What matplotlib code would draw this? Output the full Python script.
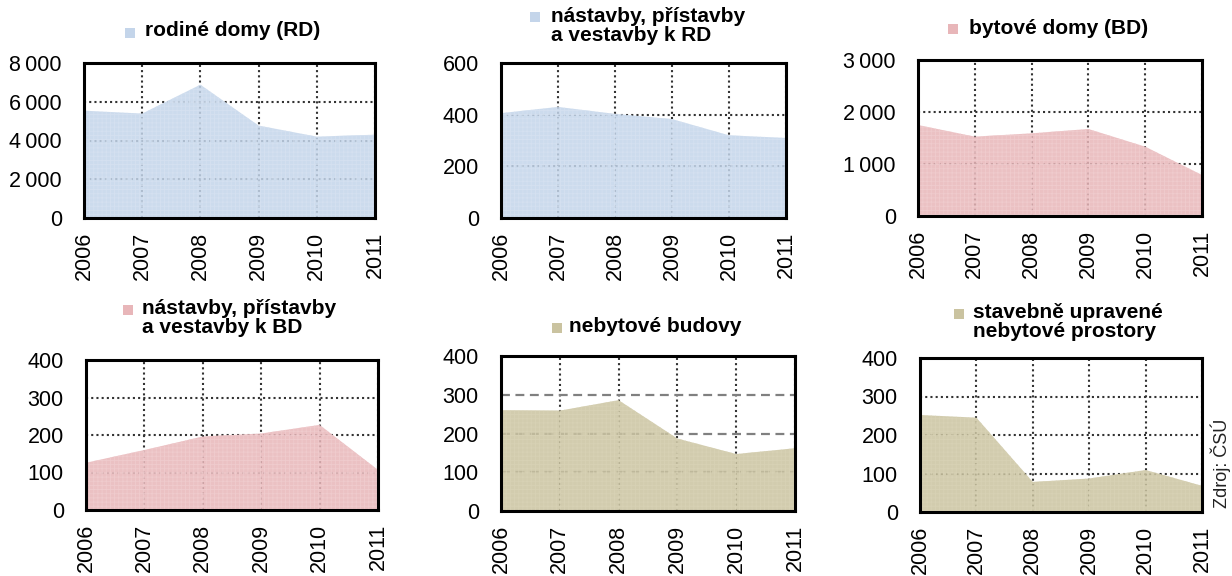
import matplotlib.pyplot as plt
from matplotlib.patches import Rectangle
from matplotlib.ticker import FuncFormatter

plt.rcParams['font.family'] = ['Liberation Sans', 'DejaVu Sans']
plt.rcParams['hatch.linewidth'] = 0.6

years = [2006, 2007, 2008, 2009, 2010, 2011]

rd = [5540, 5390, 6880, 4770, 4200, 4300]
rd_ext = [406, 430, 403, 383, 320, 310]
bd = [1750, 1526, 1590, 1673, 1333, 788]
bd_ext = [126, 160, 196, 204, 227, 107]
nonres = [260, 259, 286, 187, 147, 162]
nonres_adj = [252, 245, 78, 87, 109, 68]

titles = [
    "rodiné domy (RD)",
    "nástavby, přístavby\na vestavby k RD",
    "bytové domy (BD)",
    "nástavby, přístavby\na vestavby k BD",
    "nebytové budovy",
    "stavebně upravené\nnebytové prostory",
]
series = [rd, rd_ext, bd, bd_ext, nonres, nonres_adj]
ymax = [8000, 600, 3000, 400, 400, 400]
ystep = [2000, 200, 1000, 100, 100, 100]

blue = '#c4d5ea'
red = '#e8b6b9'
olive = '#cac3a0'
fills = [blue, blue, red, red, olive, olive]
hatches = ['#d6e2f1', '#d6e2f1', '#f0cdcf', '#f0cdcf', '#d9d3b6', '#d9d3b6']

W, H = 1232, 576
# axes boxes in pixels: left, top, right, bottom
boxes = [
    (84, 63, 375, 218),
    (501, 63, 786, 218),
    (918, 60, 1202, 216),
    (86, 360, 378, 510),
    (501, 356, 795, 511),
    (920, 358, 1202, 512),
]
# title marker (x, y centre) and text start (x, y of first line centre)
marks = [
    (130, 33, 145, 33),
    (535, 17, 551, 19),
    (953, 29, 969, 31),
    (128, 310, 142, 311),
    (557, 328, 569, 329),
    (959, 314, 973, 315),
]


def thousands(v, pos):
    return f"{int(v):,}".replace(",", "\u2009")


fig = plt.figure(figsize=(W / 100, H / 100), dpi=100)

for i in range(6):
    l, t, r, b = boxes[i]
    ax = fig.add_axes([l / W, 1 - b / H, (r - l) / W, (b - t) / H])
    ax.fill_between(years, series[i], 0, facecolor=fills[i], edgecolor=hatches[i],
                    hatch='++++', linewidth=0, alpha=0.85, zorder=2)
    ax.set_xlim(2006, 2011)
    ax.set_ylim(0, ymax[i])
    ax.set_yticks(range(0, ymax[i] + 1, ystep[i]))
    ax.set_xticks(years)
    ax.set_xticklabels([str(y) for y in years], rotation=90)
    ax.yaxis.set_major_formatter(FuncFormatter(thousands))
    ax.tick_params(axis='y', length=0, pad=16, labelsize=15.5)
    ax.tick_params(axis='x', length=0, pad=10, labelsize=15.5)
    ax.set_axisbelow(True)
    ax.grid(axis='x', color='#333333', linestyle=(0, (1, 1.5)), linewidth=1.5)
    if i == 4:
        ax.grid(axis='y', color='#808080', linestyle=(0, (4, 2.5)), linewidth=1.6)
    else:
        ax.grid(axis='y', color='#333333', linestyle=(0, (1, 1.5)), linewidth=1.5)
    for s in ax.spines.values():
        s.set_linewidth(2.2)
        s.set_color('black')
        s.set_zorder(5)

    mx, my, tx, ty = marks[i]
    fig.patches.append(Rectangle(((mx - 5) / W, 1 - (my + 5) / H), 10 / W, 10 / H,
                                 transform=fig.transFigure, facecolor=fills[i],
                                 edgecolor='none'))
    fig.text(tx / W, 1 - (ty - 12) / H, titles[i], ha='left', va='top',
             fontsize=15, fontweight='bold', linespacing=1.0)

fig.text(1221 / W, 1 - 463 / H, "Zdroj: ČSÚ", rotation=90, ha='center', va='center',
         fontsize=13, color='#222222')

fig.savefig('out.png', dpi=100)
